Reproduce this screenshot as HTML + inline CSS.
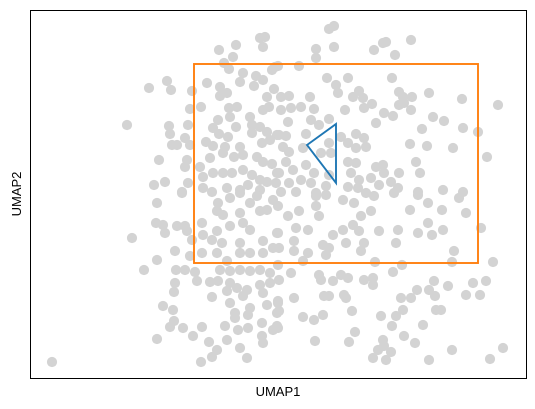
<!DOCTYPE html>
<html><head><meta charset="utf-8"><style>
body{margin:0;background:#fff;}
svg{display:block;font-family:"Liberation Sans",sans-serif;}
</style></head><body>
<svg id="chart" width="535" height="409">
<rect x="0" y="0" width="535" height="409" fill="#fff"/>
<g id="points"></g>
<g id="overlays"></g>
<rect x="30.5" y="10.5" width="496" height="368" fill="none" stroke="#000" stroke-width="1"/>
<text x="278" y="396" text-anchor="middle" font-size="13">UMAP1</text>
<text x="21" y="194" text-anchor="middle" font-size="13" transform="rotate(-90 21 194)">UMAP2</text>
</svg>
<script>
const pts = [[219,50],[236,45],[233,57],[260,38],[265,37],[263,47],[224,63],[229,69],[243,73],[240,82],[256,76],[263,80],[275,67],[272,70],[207,83],[220,87],[227,93],[220,96],[254,86],[274,89],[267,97],[149,88],[167,81],[171,90],[192,91],[190,109],[201,107],[229,108],[237,107],[230,117],[218,120],[250,117],[263,110],[269,107],[127,125],[169,126],[188,125],[170,134],[213,128],[219,134],[236,127],[252,125],[260,127],[252,133],[267,132],[277,135],[185,138],[228,137],[172,145],[177,145],[190,145],[206,142],[213,146],[225,147],[240,147],[262,143],[270,140],[159,160],[187,160],[185,167],[200,167],[210,158],[223,153],[234,157],[243,155],[257,157],[263,162],[272,164],[277,173],[213,173],[223,173],[232,173],[243,170],[252,175],[260,180],[267,182],[203,177],[154,185],[165,182],[188,183],[203,188],[212,192],[227,188],[240,190],[248,185],[182,192],[260,190],
[329,29],[334,26],[334,47],[316,49],[316,58],[299,66],[278,66],[374,50],[383,43],[386,42],[395,55],[411,40],[327,78],[348,78],[336,85],[338,93],[353,97],[359,91],[363,98],[372,104],[392,78],[399,92],[403,97],[412,97],[404,103],[411,110],[399,105],[429,93],[462,99],[498,105],[281,97],[289,96],[310,97],[281,110],[291,108],[301,107],[314,109],[311,120],[288,122],[345,110],[364,108],[384,113],[393,116],[376,123],[329,119],[319,125],[433,117],[444,121],[463,128],[478,132],[422,129],[279,135],[286,136],[306,134],[341,137],[356,134],[364,138],[348,143],[356,148],[366,147],[329,143],[283,147],[289,152],[303,148],[321,153],[331,153],[410,144],[427,146],[453,148],[487,157],[286,162],[306,165],[348,162],[356,163],[376,167],[383,165],[416,162],[279,173],[293,170],[314,173],[329,175],[351,173],[359,180],[371,178],[384,173],[399,173],[420,173],[276,183],[289,183],[301,180],[311,183],[326,186],[348,187],[358,188],[379,185],[391,182],[398,188],[418,192],[443,190],[463,192],[281,192],[296,192],[316,193],[366,193],
[157,203],[182,193],[132,238],[156,223],[163,225],[165,233],[177,226],[185,226],[187,231],[192,240],[175,251],[190,256],[157,260],[144,270],[176,270],[185,270],[195,272],[197,281],[175,283],[174,292],[210,282],[212,297],[163,306],[173,310],[174,321],[170,327],[183,328],[193,336],[202,327],[157,339],[209,342],[217,350],[225,326],[227,340],[212,357],[201,362],[52,362],[240,348],[247,358],[230,303],[235,313],[235,318],[243,296],[250,308],[248,315],[238,330],[248,328],[262,323],[262,336],[263,343],[273,330],[277,326],[267,305],[278,301],[277,313],[202,223],[203,235],[202,253],[212,240],[217,231],[222,243],[217,253],[218,203],[217,211],[223,215],[230,226],[240,213],[243,223],[250,203],[257,196],[260,211],[267,210],[273,200],[277,233],[263,241],[250,230],[240,243],[240,253],[250,253],[263,253],[273,248],[227,261],[220,270],[230,271],[240,270],[250,271],[260,270],[270,273],[218,281],[230,283],[237,288],[247,290],[260,285],[270,283],[227,291],[263,293],[240,193],[230,198],
[316,196],[326,195],[343,200],[354,203],[374,196],[394,193],[418,195],[428,203],[459,198],[466,213],[442,210],[410,210],[371,211],[361,216],[353,225],[343,230],[333,235],[319,216],[316,206],[299,211],[288,216],[278,206],[296,228],[308,230],[278,233],[294,241],[294,251],[279,248],[308,253],[323,245],[329,248],[326,255],[346,243],[364,243],[361,251],[359,231],[379,231],[398,230],[396,243],[418,233],[428,223],[432,235],[443,230],[454,251],[452,262],[481,228],[493,262],[303,261],[278,265],[279,280],[291,273],[319,275],[321,280],[333,281],[341,275],[348,278],[364,280],[373,278],[373,285],[375,262],[393,272],[402,265],[434,281],[429,290],[435,296],[448,286],[417,290],[401,298],[411,298],[473,283],[466,295],[480,295],[486,281],[294,298],[324,296],[329,296],[344,295],[346,298],[278,303],[279,311],[303,317],[314,320],[323,315],[352,311],[381,316],[396,316],[403,310],[436,310],[441,310],[392,326],[423,325],[278,328],[315,341],[349,342],[355,332],[383,340],[404,336],[415,343],[378,350],[384,346],[391,352],[373,358],[386,360],[429,360],[452,350],[490,359],[503,348]];
const rectBox = [194,64,478,263];
const triangle = [[307,145],[336,124],[336,183]];
const xDomain=[30,526], yDomain=[10,378];
function xs(v){return 30+(v-xDomain[0])/(xDomain[1]-xDomain[0])*496;}
function ys(v){return 10+(v-yDomain[0])/(yDomain[1]-yDomain[0])*368;}
const NS="http://www.w3.org/2000/svg";
const g=document.getElementById('points');
pts.forEach(p=>{
  const c=document.createElementNS(NS,'circle');
  c.setAttribute('cx',xs(p[0]));c.setAttribute('cy',ys(p[1]));c.setAttribute('r',5.1);
  c.setAttribute('fill','#d3d3d3');
  
  
  g.appendChild(c);
});
const o=document.getElementById('overlays');
const r=document.createElementNS(NS,'rect');
r.setAttribute('x',xs(rectBox[0]));r.setAttribute('y',ys(rectBox[1]));
r.setAttribute('width',xs(rectBox[2])-xs(rectBox[0]));r.setAttribute('height',ys(rectBox[3])-ys(rectBox[1]));
r.setAttribute('fill','none');r.setAttribute('stroke','#ff7f0e');r.setAttribute('stroke-width','1.9');


o.appendChild(r);
const t=document.createElementNS(NS,'polygon');
t.setAttribute('points',triangle.map(p=>xs(p[0])+','+ys(p[1])).join(' '));
t.setAttribute('fill','none');t.setAttribute('stroke','#1f77b4');t.setAttribute('stroke-width','1.9');


o.appendChild(t);
</script>
</body></html>
